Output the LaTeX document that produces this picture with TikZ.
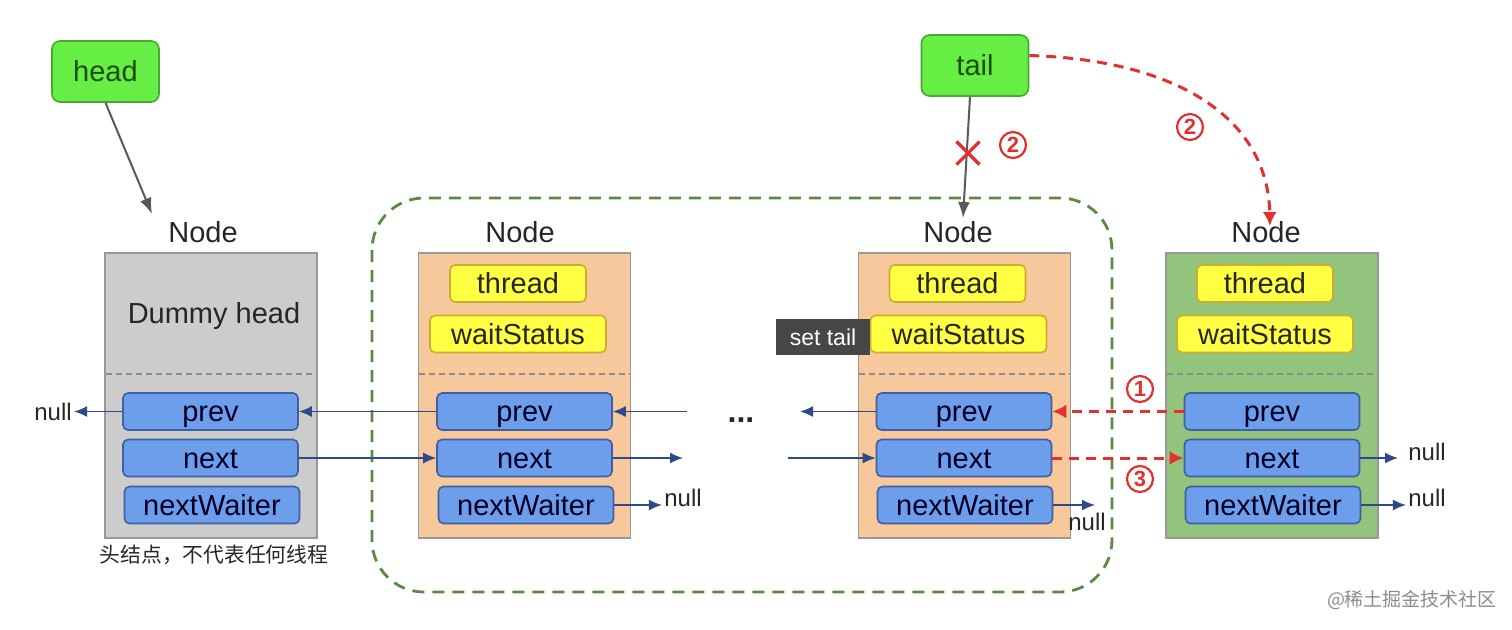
\documentclass[tikz,border=0pt]{standalone}
\usepackage{fontspec}
\setmainfont{Liberation Sans}
\newfontfamily\cjk{Noto Sans CJK SC}
\usetikzlibrary{arrows.meta, shapes.misc}

\definecolor{ptrgreen}{HTML}{66EE44}
\definecolor{ptrborder}{HTML}{48A832}
\definecolor{ptrtext}{HTML}{1D4D12}
\definecolor{dummygray}{HTML}{CCCCCC}
\definecolor{peach}{HTML}{F6C89C}
\definecolor{leafgreen}{HTML}{93C47D}
\definecolor{fieldyellow}{HTML}{FFFF44}
\definecolor{fieldblue}{HTML}{6D9EEB}
\definecolor{fieldedge}{HTML}{3F5F9F}
\definecolor{linkblue}{HTML}{2E4A8A}
\definecolor{stepred}{HTML}{E2302E}
\definecolor{groupgreen}{HTML}{5B8A45}

\begin{document}
\begin{tikzpicture}
        [x=0.5pt, y=-0.5pt, every path/.style={line cap=butt},
         every node/.style={font=\fontsize{14.5}{16}\selectfont, text=black!85},
         ptr/.style={draw=ptrborder, fill=ptrgreen, rounded corners=4pt, line width=0.8pt, minimum width=53.5pt, minimum height=30.5pt, text=ptrtext},
         qnode/.style={draw=black!40, line width=0.8pt, minimum width=106pt, minimum height=142.5pt},
         field/.style={draw=fieldedge, fill=fieldblue, rounded corners=2.5pt, line width=0.8pt, minimum width=87.5pt, minimum height=18.5pt, inner sep=0pt, text height=12pt, text depth=2pt, text=black!85!blue},
         state/.style={draw=black!30!yellow!70!orange, fill=fieldyellow, rounded corners=2.5pt, line width=0.8pt, minimum height=18.5pt, inner sep=0pt, text height=12pt, text depth=2pt},
         nulltxt/.style={font=\fontsize{12}{14}\selectfont, inner sep=1pt},
         sep/.style={draw=black!45, dashed, dash pattern=on 3pt off 2pt, line width=0.6pt},
         link/.style={draw=linkblue, line width=0.7pt, -{Latex[length=6.5pt, width=5.5pt]}},
         pointer/.style={draw=black!65, line width=1pt, -{Latex[length=8pt, width=6pt]}},
         change/.style={draw=stepred, line width=1.5pt, dash pattern=on 5pt off 3.5pt, -{Latex[length=7pt, width=7pt]}},
         stepno/.style={circle, draw=stepred, line width=1.1pt, text=stepred, minimum size=13pt, inner sep=0pt, font=\fontsize{11}{11}\selectfont\bfseries},
         group/.style={draw=groupgreen, line width=1.4pt, dash pattern=on 6pt off 4pt, rounded corners=26pt}]

        \useasboundingbox (0,0) rectangle (1512,629);

        % queue group
        \draw[group] (372,198) rectangle (1112,592);

        % head / tail pointers
        \node[ptr] (head) at (105.5,71.5) {head};
        \node[ptr] (tail) at (975,65.5) {tail};

        % node labels
        \node (nl1) at (203,232) {Node};
        \node (nl2) at (520,232) {Node};
        \node (nl3) at (958,232) {Node};
        \node (nl4) at (1266,232) {Node};

        % dummy head node
        \node[qnode, fill=dummygray] (b1) at (211,395.5) {};
        \node (dummy) at (214,316) {Dummy head};
        \draw[sep] (106,374) -- (316,374);
        \node[field] (p1) at (210.5,411.5) {prev};
        \node[field] (n1) at (210.5,458) {next};
        \node[field] (w1) at (212,505) {nextWaiter};
        \node[font=\cjk\fontsize{10.4}{12}\selectfont] (cap1) at (214,555) {头结点，不代表任何线程};

        % second node
        \node[qnode, fill=peach] (b2) at (524.5,395.5) {};
        \node[state, minimum width=68pt] (t2) at (518,283.5) {thread};
        \node[state, minimum width=88pt] (s2) at (518,334) {waitStatus};
        \draw[sep] (419,374) -- (630,374);
        \node[field] (p2) at (524.5,411.5) {prev};
        \node[field] (n2) at (524.5,458) {next};
        \node[field] (w2) at (526,505) {nextWaiter};

        % old tail node
        \node[qnode, fill=peach] (b3) at (964.5,395.5) {};
        \node[state, minimum width=68pt] (t3) at (957.5,283.5) {thread};
        \node[state, minimum width=88pt] (s3) at (958.5,334) {waitStatus};
        \draw[sep] (859,374) -- (1070,374);
        \node[field] (p3) at (964,411.5) {prev};
        \node[field] (n3) at (964,458) {next};
        \node[field] (w3) at (965,505) {nextWaiter};

        % new node
        \node[qnode, fill=leafgreen] (b4) at (1272,395.5) {};
        \node[state, minimum width=68pt] (t4) at (1265,283.5) {thread};
        \node[state, minimum width=88pt] (s4) at (1265,334) {waitStatus};
        \draw[sep] (1167,374) -- (1377,374);
        \node[field] (p4) at (1272,411.5) {prev};
        \node[field] (n4) at (1272,458) {next};
        \node[field] (w4) at (1273,505) {nextWaiter};

        \node[font=\fontsize{16}{16}\selectfont\bfseries] (dots) at (741,420) {...};

        % null ends
        \node[nulltxt] (null1) at (53,411.5) {null};
        \node[nulltxt] (null2) at (683,498) {null};
        \node[nulltxt] (null3) at (1087,522) {null};
        \node[nulltxt] (null4) at (1427,452) {null};
        \node[nulltxt] (null5) at (1427,498) {null};

        \coordinate (c2n) at (683,458);
        \coordinate (c2p) at (687,411.5);
        \coordinate (c3p) at (800,411.5);
        \coordinate (c3n) at (788,458);
        \coordinate (c3w) at (1095,505);
        \coordinate (c4n) at (1398,458);

        \draw[link] (p1.west) -- (null1.east);
        \draw[link] (n1.east) -- (n2.west);
        \draw[link] (p2.west) -- (p1.east);
        \draw[link] (w2.east) -- (null2.west |- w2.east);
        \draw[link] (n2.east) -- (c2n);
        \draw[link] (c2p) -- (p2.east);
        \draw[link] (p3.west) -- (c3p);
        \draw[link] (c3n) -- (n3.west);
        \draw[link] (w3.east) -- (c3w);
        \draw[link] (n4.east) -- (c4n);
        \draw[link] (w4.east) -- (null5.west |- w4.east);

        % pointers
        \coordinate (h1) at (152,214);
        \coordinate (h3) at (963,218);
        \coordinate (h4) at (1270,226);
        \draw[pointer] (head.south) -- (h1);
        \draw[pointer] (tail.south -| 970,0) -- (h3);
        \node[cross out, draw=stepred, line width=1.6pt, minimum size=10pt, inner sep=0pt] (cut) at (968,153) {};

        % enqueue steps
        \draw[change] (p4.west) -- (p3.east);
        \draw[change] (n3.east) -- (n4.west);
        \draw[change] ([yshift=5pt]tail.east) .. controls (1180,60) and (1268,120) .. (h4);
        \node[stepno] (s1) at (1140,389) {1};
        \node[stepno] (s2a) at (1013,145) {2};
        \node[stepno] (s2b) at (1190,127) {2};
        \node[stepno] (s3) at (1140,479) {3};

        % tooltip
        \node[fill=black!72, text=white, font=\fontsize{11.5}{13}\selectfont, minimum width=47pt, minimum height=18pt, inner sep=0pt] (tip) at (823,337) {set tail};

        \node[font=\cjk\fontsize{9.5}{11}\selectfont, text=black!45] (mark) at (1412,600) {@稀土掘金技术社区};

      \end{tikzpicture}
\end{document}
